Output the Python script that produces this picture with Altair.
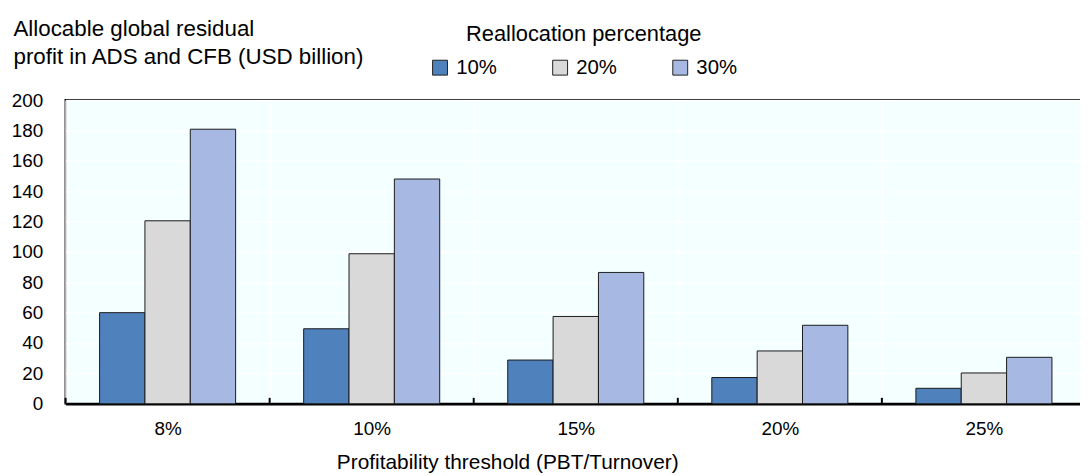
import altair as alt
import pandas as pd

categories = ["8%", "10%", "15%", "20%", "25%"]
series = ["10%", "20%", "30%"]
values_10 = [60.0, 49.4, 28.8, 17.3, 10.2]
values_20 = [120.5, 98.8, 57.5, 34.8, 20.3]
values_30 = [180.8, 148.0, 86.5, 51.7, 30.6]
y_ticks = [0, 20, 40, 60, 80, 100, 120, 140, 160, 180, 200]
colors = ["#4F81BD", "#D9D9D9", "#A7B9E3"]

rows = []
for i, c in enumerate(categories):
    for s, vals in zip(series, [values_10, values_20, values_30]):
        rows.append({"cat": c, "ser": s, "val": vals[i]})
df = pd.DataFrame(rows)
df_cat = pd.DataFrame({"cat": categories})

FONT = "Liberation Sans"
W, H = 1028, 306

bars = alt.Chart(df).mark_bar(stroke="#1a1a1a", strokeWidth=1).encode(
    x=alt.X("cat:N", sort=categories,
            scale=alt.Scale(paddingInner=0, paddingOuter=0),
            axis=alt.Axis(title="Profitability threshold (PBT/Turnover)",
                          labelAngle=0, labelFontSize=19, labelPadding=16,
                          labelColor="black", labelFont=FONT,
                          ticks=False, grid=True, tickBand="extent",
                          gridColor="white", gridWidth=1.5,
                          domainColor="black", domainWidth=2.5,
                          titleFontSize=21, titleFontWeight="normal", titleFont=FONT,
                          titleColor="black", titleX=445, titleY=65,
                          titleAlign="center", titleBaseline="alphabetic")),
    xOffset=alt.XOffset("ser:N", sort=series,
                        scale=alt.Scale(paddingOuter=0.75, paddingInner=0)),
    y=alt.Y("val:Q", scale=alt.Scale(domain=[0, 200], nice=False),
            axis=alt.Axis(values=y_ticks, domain=False, ticks=False,
                          labelFontSize=19, labelPadding=23, labelColor="black",
                          labelFont=FONT,
                          gridColor="white", gridWidth=1.5,
                          title=["Allocable global residual",
                                 "profit in ADS and CFB (USD billion)"],
                          titleAngle=0, titleAlign="left", titleBaseline="alphabetic",
                          titleX=-53, titleY=-65, titleFontSize=22.5,
                          titleFontWeight="normal", titleFont=FONT, titleColor="black",
                          titleLineHeight=28, titleLimit=600)),
    color=alt.Color("ser:N", sort=series,
                    scale=alt.Scale(domain=series, range=colors),
                    legend=alt.Legend(orient="none", legendX=367, legendY=-76,
                                      direction="horizontal",
                                      title="Reallocation percentage",
                                      titleFontSize=22, titleFontWeight="normal",
                                      titleFont=FONT, titleColor="black",
                                      titleAnchor="middle", titlePadding=11,
                                      titleLimit=600,
                                      labelFontSize=20.5, labelFont=FONT,
                                      labelColor="black", labelOffset=6,
                                      symbolType="square", symbolSize=225,
                                      symbolStrokeColor="#222", symbolStrokeWidth=1,
                                      symbolOpacity=1,
                                      columnPadding=53, padding=0)),
)

ticks = alt.Chart(df_cat).mark_rule(color="black", strokeWidth=2).encode(
    x=alt.X("cat:N", sort=categories, bandPosition=0),
    y=alt.value(H - 6),
    y2=alt.value(H),
)

chart = alt.layer(bars, ticks).properties(
    width=W, height=H,
    padding={"left": 58, "top": 91, "right": -6, "bottom": 70},
    autosize=alt.AutoSizeParams(type="none"),
).configure_view(
    fill="#F4FFFF", stroke="black", strokeWidth=2
)

chart.save("out.html", embed_options={"renderer": "svg", "actions": False})
